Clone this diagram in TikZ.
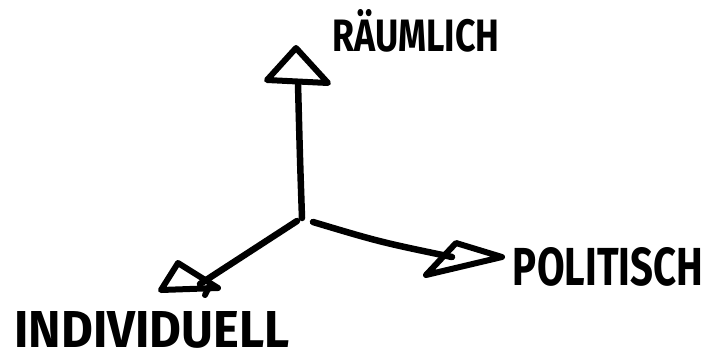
\documentclass[tikz,border=0pt]{standalone}
\usepackage{fontspec}
\setmainfont{Fira Sans}
\usepackage{graphicx}
\begin{document}
\begin{tikzpicture}[x=1pt,y=-1pt,
  ink/.style={line width=6.5pt,line cap=round,line join=round,draw=black},
  head/.style={line width=6pt,line join=round,line cap=round,draw=black},
  lbl/.style={inner sep=0pt,text=black}]
\useasboundingbox (0,0) rectangle (708,362);
% axis ends
\coordinate (oU) at (302,218);
\coordinate (oL) at (297,221);
\coordinate (oR) at (313,222);
\coordinate (eU) at (298,84);
\coordinate (eR) at (452,257);
\coordinate (eL) at (200,284);
% axes
\draw[ink] (oU) .. controls (300,160) .. (eU);
\draw[ink] (oR) .. controls (380,242) .. (eR);
\draw[ink] (oL) -- (eL);
% arrow heads
\coordinate (uA) at (296,48);
\coordinate (uB) at (267,80);
\coordinate (uC) at (328,83);
\draw[head] (uA) -- (uB) -- (uC) -- cycle;
\coordinate (rA) at (502,257);
\coordinate (rB) at (456,243);
\coordinate (rC) at (426,275);
\draw[head] (rA) -- (rB) -- (rC) -- cycle;
\coordinate (lA) at (161,290);
\coordinate (lB) at (178,263);
\coordinate (lC) at (218,288);
\draw[head] (lA) -- (lB) -- (lC) -- cycle;
\draw[head] (lC) ++(-8,-3) -- ++(-5,10);
% labels
\node[lbl] (raum) at (416,31) {\resizebox{167pt}{42pt}{\bfseries RÄUMLICH}};
\node[lbl] (pol) at (608,267) {\resizebox{190pt}{38pt}{\bfseries POLITISCH}};
\node[lbl] (ind) at (152,330) {\resizebox{275pt}{36pt}{\bfseries INDIVIDUELL}};
\end{tikzpicture}
\end{document}
